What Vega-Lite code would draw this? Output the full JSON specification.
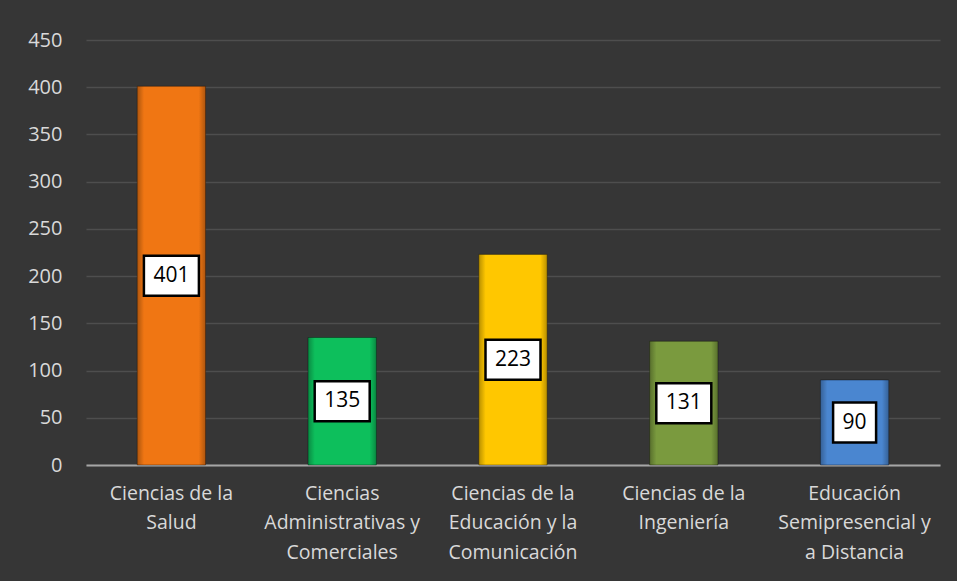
{
  "$schema": "https://vega.github.io/schema/vega-lite/v6.json",
  "width": 854,
  "height": 425,
  "autosize": {"type": "none"},
  "padding": {"left": 86, "top": 40, "right": 17, "bottom": 116},
  "background": "#363636",
  "config": {
    "view": {"stroke": null},
    "font": "Open Sans"
  },
  "data": {
    "values": [
      {"area": "Ciencias de la|Salud", "value": 401},
      {"area": "Ciencias|Administrativas y|Comerciales", "value": 135},
      {"area": "Ciencias de la|Educación y la|Comunicación", "value": 223},
      {"area": "Ciencias de la|Ingeniería", "value": 131},
      {"area": "Educación|Semipresencial y|a Distancia", "value": 90}
    ]
  },
  "encoding": {
    "x": {
      "field": "area",
      "type": "nominal",
      "sort": null,
      "scale": {"paddingInner": 0.6, "paddingOuter": 0.3},
      "axis": {
        "title": null,
        "labelAngle": 0,
        "labelExpr": "split(datum.value, '|')",
        "labelFont": "Open Sans",
        "labelFontSize": 19.5,
        "labelColor": "#d9d9d9",
        "labelLineHeight": 29.5,
        "labelBaseline": "top",
        "labelPadding": 19,
        "ticks": false,
        "domain": true,
        "domainColor": "#a6a6a6",
        "domainWidth": 2,
        "grid": false
      }
    }
  },
  "layer": [
    {
      "encoding": {
        "y": {
          "field": "value",
          "type": "quantitative",
          "scale": {"domain": [0, 450], "nice": false},
          "axis": {
            "title": null,
            "values": [0, 50, 100, 150, 200, 250, 300, 350, 400, 450],
            "labelFont": "Open Sans",
            "labelFontSize": 20,
            "labelColor": "#d9d9d9",
            "labelPadding": 24,
            "ticks": false,
            "domain": false,
            "grid": true,
            "gridColor": "#4e4e4e",
            "gridWidth": 1.5
          }
        }
      },
      "layer": [
        {
          "mark": {"type": "bar", "stroke": "rgba(0,0,0,0.35)", "strokeWidth": 1},
          "encoding": {
            "color": {
              "field": "area",
              "type": "nominal",
              "sort": null,
              "scale": {"range": ["#f07613", "#0dbf5c", "#ffc700", "#7a9a3e", "#4a86d0"]},
              "legend": null
            }
          }
        },
        {
          "mark": {
            "type": "bar",
            "fill": {
              "gradient": "linear",
              "x1": 0, "x2": 1, "y1": 0, "y2": 0,
              "stops": [
                {"offset": 0, "color": "rgba(0,0,0,0.28)"},
                {"offset": 0.1, "color": "rgba(0,0,0,0)"},
                {"offset": 0.9, "color": "rgba(0,0,0,0)"},
                {"offset": 1, "color": "rgba(0,0,0,0.28)"}
              ]
            }
          },
          "encoding": {}
        }
      ]
    },
    {
      "encoding": {
        "y": {
          "field": "value",
          "type": "quantitative",
          "scale": {"domain": [0, 900], "nice": false},
          "axis": null
        }
      },
      "layer": [
        {
          "mark": {"type": "point", "filled": true, "fill": "white", "stroke": "black", "strokeWidth": 2.5, "opacity": 1, "size": 1600},
          "encoding": {
            "shape": {
              "condition": {"test": "datum.value >= 100", "value": "M-1.375,-1H1.375V1H-1.375Z"},
              "value": "M-1.075,-1H1.075V1H-1.075Z"
            }
          }
        },
        {
          "mark": {"type": "text", "font": "Open Sans", "fontSize": 21, "color": "black", "baseline": "middle", "align": "center"},
          "encoding": {"text": {"field": "value", "type": "quantitative"}}
        }
      ]
    }
  ],
  "resolve": {"scale": {"y": "independent"}}
}
